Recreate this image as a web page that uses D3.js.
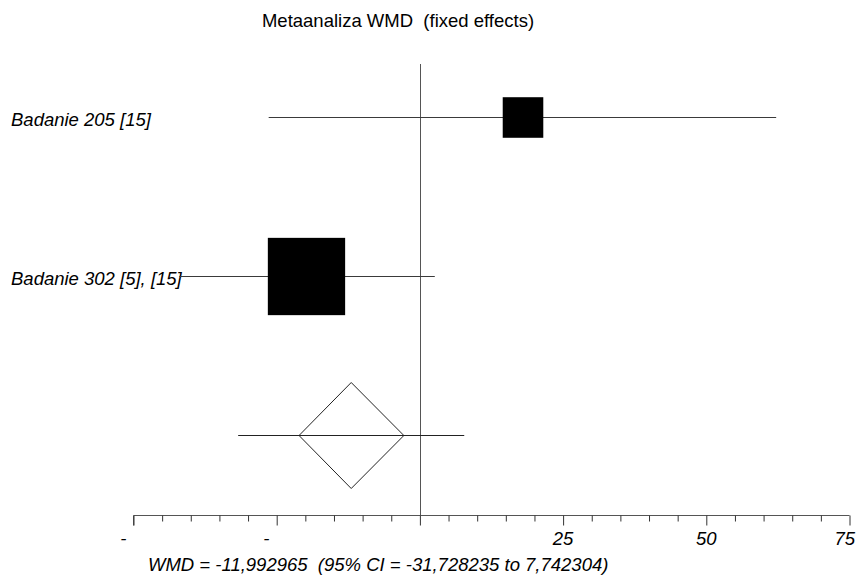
<!DOCTYPE html>
<html>
<head>
<meta charset="utf-8">
<script src="https://cdn.jsdelivr.net/npm/d3@7"></script>
<style>
  body { margin: 0; background: #fff; }
  svg text { font-family: Arial, "Liberation Sans", sans-serif; font-size: 18.5px; fill: #000; white-space: pre; }
</style>
</head>
<body>
<svg id="chart" width="857" height="576"></svg>
<script>
// study data (WMD and 95% CI), weights in %
const studies = ['Badanie 205 [15]', 'Badanie 302 [5], [15]'];
const effects = [18.0, -19.8];
const ciLow = [-26.4, -42.0];
const ciHigh = [62.2, 2.6];
const weights = [21.6, 78.4];

// pooled estimate
const pooled = -11.992965;
const pooledLow = -31.728235;
const pooledHigh = 7.742304;
const diamondLow = -21.1;
const diamondHigh = -2.8;

const tickValues = [-50, -25, 0, 25, 50, 75];
const tickLabels = ['-', '-', '', '25', '50', '75'];
const fullLabels = ['-50', '-25', '0', '25', '50', '75'];

const title = 'Metaanaliza WMD  (fixed effects)';
const footer = 'WMD = -11,992965  (95% CI = -31,728235 to 7,742304)';

const svg = d3.select('#chart');
const lineColor = '#3a3a3a';

const x = d3.scaleLinear().domain([-50, 75]).range([133.5, 849.5]);
const rows = [...studies, 'pooled'];
const y = d3.scalePoint().domain(rows).range([117.5, 435.5]);
const size = d3.scaleSqrt().domain([0, 100]).range([0, 87.3]);
const axisY = 515.5;
const W = +svg.attr('width');

// title
svg.append('text')
  .attr('x', 398).attr('y', 27)
  .attr('text-anchor', 'middle')
  .text(title);

// line of no effect
svg.append('line')
  .attr('x1', Math.round(x(0)) + 0.5).attr('x2', Math.round(x(0)) + 0.5)
  .attr('y1', 64).attr('y2', axisY)
  .attr('stroke', '#555').attr('stroke-width', 1);

// study labels
svg.selectAll('.label')
  .data(studies)
  .enter().append('text')
  .attr('class', 'label')
  .attr('x', 11)
  .attr('y', d => y(d) + 8.5)
  .style('font-style', 'italic')
  .text(d => d);

// CI lines
svg.selectAll('.ci')
  .data(studies)
  .enter().append('line')
  .attr('class', 'ci')
  .attr('x1', (d, i) => x(ciLow[i]))
  .attr('x2', (d, i) => x(ciHigh[i]))
  .attr('y1', d => y(d)).attr('y2', d => y(d))
  .attr('stroke', lineColor).attr('stroke-width', 1);

// weighted squares
svg.selectAll('.box')
  .data(studies)
  .enter().append('rect')
  .attr('class', 'box')
  .attr('x', (d, i) => x(effects[i]) - size(weights[i]) / 2)
  .attr('y', (d, i) => y(d) - size(weights[i]) / 2)
  .attr('width', (d, i) => size(weights[i]))
  .attr('height', (d, i) => size(weights[i]))
  .attr('fill', '#000');

// pooled CI line and diamond
const py = y('pooled');
svg.append('line')
  .attr('x1', x(pooledLow)).attr('x2', x(pooledHigh))
  .attr('y1', py).attr('y2', py)
  .attr('stroke', '#222').attr('stroke-width', 1);

const dh = 53;
svg.append('path')
  .attr('d', `M${x(diamondLow)},${py} L${x(pooled)},${py - dh} L${x(diamondHigh)},${py} L${x(pooled)},${py + dh} Z`)
  .attr('fill', 'none')
  .attr('stroke', '#222').attr('stroke-width', 1);

// axis
const axis = svg.append('g').attr('transform', `translate(0,${axisY})`);
axis.call(d3.axisBottom(x)
  .tickValues(d3.range(-50, 76, 5))
  .tickSize(6)
  .tickFormat('')
  .tickSizeOuter(0));
axis.select('.domain').attr('stroke', '#555').attr('d', `M${x(-50)},10V0H${x(75)}`);
axis.selectAll('.tick line').attr('stroke', '#333')
  .attr('y2', d => tickValues.includes(d) ? 10 : 6);
axis.selectAll('.tick text').remove();

tickValues.forEach((v, i) => {
  // measure full label so the shown part sits where the label would start
  const t = svg.append('text')
    .attr('y', 545)
    .style('font-style', 'italic')
    .text(fullLabels[i]);
  const w = t.node().getComputedTextLength();
  const left = Math.min(x(v) - w / 2, W - 2 - w);
  t.text(tickLabels[i]).attr('x', left);
});

// footer
svg.append('text')
  .attr('x', 148).attr('y', 571)
  .style('font-style', 'italic')
  .text(footer);
</script>
</body>
</html>
